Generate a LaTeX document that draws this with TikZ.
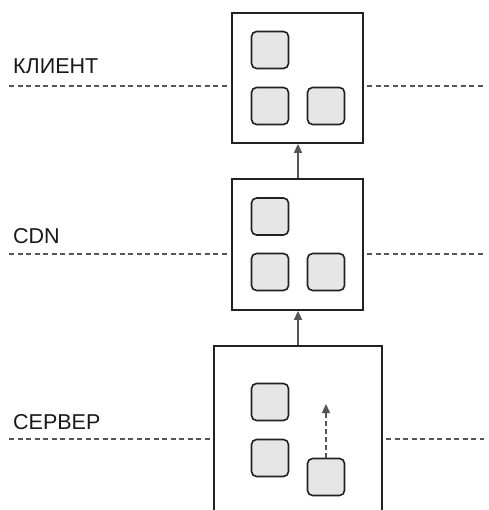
\documentclass[tikz,border=0pt]{standalone}
\usepackage{fontspec}
\setmainfont{Liberation Sans}
\usetikzlibrary{arrows.meta}
\definecolor{cellfill}{HTML}{E6E6E6}
\definecolor{edge}{HTML}{222222}
\definecolor{arr}{HTML}{555555}
\tikzset{
  bigbox/.style={draw=edge,line width=1.8pt,fill=white,inner sep=0pt},
  cell/.style={draw=edge,line width=1.6pt,fill=cellfill,rounded corners=5pt,minimum width=37pt,minimum height=37pt,inner sep=0pt},
  level/.style={draw=arr,line width=1.3pt,dash pattern=on 5pt off 3.5pt},
  flow/.style={draw=arr,line width=1.6pt,-{Triangle[length=9pt,width=8pt]}},
  flowdash/.style={flow,dash pattern=on 5pt off 3pt},
  lbl/.style={anchor=base west,inner sep=0pt,font=\fontsize{21.5}{24}\selectfont,text=black!90}
}
\begin{document}
\begin{tikzpicture}[x=1pt,y=-1pt]
\useasboundingbox (0,0) rectangle (488,510);
% level lines
\coordinate (l1a) at (9,86); \coordinate (l1b) at (228,86);
\coordinate (l1c) at (367,86); \coordinate (l1d) at (484,86);
\coordinate (l2a) at (9,254); \coordinate (l2b) at (228,254);
\coordinate (l2c) at (367,254); \coordinate (l2d) at (484,254);
\coordinate (l3a) at (9,439); \coordinate (l3b) at (210,439);
\coordinate (l3c) at (386,439); \coordinate (l3d) at (484,439);
\draw[level] (l1a) -- (l1b); \draw[level] (l1c) -- (l1d);
\draw[level] (l2a) -- (l2b); \draw[level] (l2c) -- (l2d);
\draw[level] (l3a) -- (l3b); \draw[level] (l3c) -- (l3d);
% labels
\node[lbl] (tclient) at (13,74) {КЛИЕНТ};
\node[lbl] (tcdn) at (13,243) {CDN};
\node[lbl] (tserver) at (13,429) {СЕРВЕР};
% big boxes
\node[bigbox,minimum width=131pt,minimum height=130pt] (client) at (297.5,78) {};
\node[bigbox,minimum width=131pt,minimum height=131pt] (cdn) at (297.5,244.5) {};
\node[bigbox,minimum width=168pt,minimum height=184pt] (server) at (298,438) {};
% cells
\node[cell] (c1) at (270,50) {};
\node[cell] (c2) at (270,106) {};
\node[cell] (c3) at (326,106) {};
\node[cell] (d1) at (270,216.5) {};
\node[cell] (d2) at (270,272) {};
\node[cell] (d3) at (326,272) {};
\node[cell] (s1) at (270,402) {};
\node[cell] (s2) at (270,458) {};
\node[cell] (s3) at (326,477) {};
% arrows
\draw[flow] (cdn.north -| 298,0) -- (client.south -| 298,0);
\draw[flow] (server.north -| 298,0) -- (cdn.south -| 298,0);
\coordinate (up) at (326,404);
\draw[flowdash] (s3.north) -- (up);
\end{tikzpicture}
\end{document}
